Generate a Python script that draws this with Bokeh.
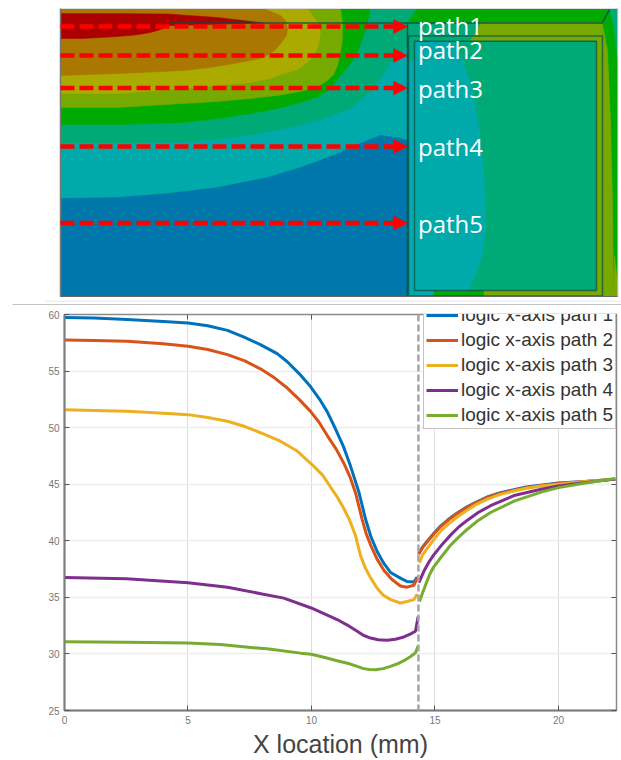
from math import pi
from bokeh.plotting import figure
from bokeh.embed import file_html
from bokeh.resources import INLINE
from bokeh.models import Range1d, LinearAxis, FixedTicker, Span, Legend, LegendItem, Label
from bokeh.core.properties import value

nan = float("nan")

# ---------- line chart data ----------
series_names = ["logic x-axis path 1", "logic x-axis path 2", "logic x-axis path 3",
                "logic x-axis path 4", "logic x-axis path 5"]
x_ticks = [0, 5, 10, 15, 20]
y_ticks = [25, 30, 35, 40, 45, 50, 55, 60]
interface_x = 14.33

path1_x = [0, 1.2, 2.54, 4, 5, 5.8, 6.6, 7.27, 7.93, 8.61, 9.02, 9.49, 9.96, 10.36, 10.63, 10.97, 11.3, 11.58, 11.92, 12.19, 12.4, 12.67, 12.93, 13.2, 13.6, 13.87, 14.15, 14.28,
           nan, 14.34, 14.5, 14.68, 14.95, 15.2, 15.55, 15.9, 16.3, 16.7, 17.15, 17.65, 18.7, 20, 21.1, 22.3]
path1_t = [59.74, 59.68, 59.56, 59.38, 59.24, 59.0, 58.6, 58.0, 57.34, 56.54, 55.82, 54.8, 53.63, 52.4, 51.44, 49.9, 48.3, 46.6, 44.3, 41.9, 40.4, 39.0, 38.0, 37.2, 36.7, 36.4, 36.35, 36.8,
           nan, 38.85, 39.45, 39.95, 40.65, 41.25, 41.9, 42.45, 43.0, 43.45, 43.9, 44.25, 44.75, 45.1, 45.25, 45.45]
path2_x = [0, 1.2, 2.54, 4, 5, 5.8, 6.6, 7.3, 7.93, 8.5, 9.02, 9.5, 9.96, 10.3, 10.64, 11, 11.3, 11.55, 11.78, 12.05, 12.22, 12.4, 12.65, 12.93, 13.25, 13.6, 13.87, 14.15, 14.28,
           nan, 14.34, 14.5, 14.68, 14.95, 15.2, 15.55, 15.9, 16.3, 16.7, 17.15, 17.65, 18.7, 20, 21.1, 22.3]
path2_t = [57.74, 57.7, 57.63, 57.42, 57.2, 56.9, 56.45, 55.9, 55.2, 54.4, 53.5, 52.5, 51.44, 50.5, 49.3, 48.1, 46.9, 45.7, 44.27, 41.9, 40.6, 39.6, 38.4, 37.4, 36.6, 36.0, 35.9, 36.07, 36.7,
           nan, 38.81, 39.4, 39.9, 40.6, 41.2, 41.85, 42.4, 42.95, 43.4, 43.85, 44.2, 44.7, 45.07, 45.24, 45.45]
path3_x = [0, 1.2, 2.54, 4, 5, 5.8, 6.6, 7.3, 7.93, 8.74, 9.42, 10.09, 10.45, 10.77, 11.05, 11.3, 11.55, 11.78, 11.88, 12.0, 12.19, 12.4, 12.66, 12.9, 13.2, 13.6, 13.87, 14.15, 14.28,
           nan, 14.37, 14.5, 14.68, 14.95, 15.2, 15.55, 15.9, 16.3, 16.7, 17.15, 17.65, 18.2, 18.7, 19.3, 20, 21.1, 22.3]
path3_t = [51.58, 51.52, 51.44, 51.28, 51.15, 50.9, 50.57, 50.1, 49.55, 48.8, 47.93, 46.6, 45.8, 44.75, 43.85, 42.9, 41.8, 40.48, 39.6, 38.6, 37.56, 36.7, 35.8, 35.2, 34.8, 34.5, 34.64, 34.8, 35.3,
           nan, 38.06, 38.75, 39.3, 40.1, 40.8, 41.5, 42.1, 42.7, 43.25, 43.7, 44.1, 44.4, 44.65, 44.85, 45.0, 45.24, 45.45]
path4_x = [0, 2.5, 5, 6.6, 8.0, 8.88, 9.99, 11.04, 11.45, 11.85, 12.1, 12.39, 12.7, 13.06, 13.4, 13.74, 14.0, 14.21, 14.32,
           nan, 14.35, 14.55, 14.75, 14.95, 15.3, 15.63, 15.95, 16.3, 16.75, 17.25, 18.2, 19.3, 20, 21.1, 22.3]
path4_t = [36.75, 36.65, 36.3, 35.9, 35.3, 34.93, 34.06, 33.04, 32.55, 32.0, 31.65, 31.4, 31.25, 31.2, 31.3, 31.5, 31.75, 32.0, 33.3,
           nan, 36.3, 37.3, 38.1, 38.75, 39.7, 40.5, 41.2, 41.8, 42.5, 43.1, 44.0, 44.55, 44.85, 45.15, 45.45]
path5_x = [0, 2.5, 5, 6.3, 7.66, 8.2, 9.56, 9.99, 10.5, 11.04, 11.5, 11.85, 12.1, 12.35, 12.6, 12.9, 13.2, 13.5, 13.74, 14.0, 14.21, 14.32,
           nan, 14.37, 14.5, 14.62, 14.78, 14.95, 15.3, 15.63, 15.95, 16.3, 16.75, 17.25, 18.2, 19.3, 20, 21.1, 22.3]
path5_t = [31.08, 31.03, 30.96, 30.84, 30.55, 30.45, 30.07, 29.97, 29.7, 29.4, 29.15, 28.9, 28.7, 28.63, 28.6, 28.7, 28.9, 29.15, 29.4, 29.75, 30.1, 30.73,
           nan, 34.63, 35.4, 36.1, 37.0, 37.7, 38.7, 39.6, 40.3, 41.0, 41.8, 42.5, 43.5, 44.3, 44.7, 45.1, 45.5]

# ---------- thermal map regions (diagram coordinates) ----------
base_x = [60, 617, 617, 60]
base_y = [8, 8, 296, 296]
teal_x = [60, 117, 183, 217, 250, 277, 300, 318, 333, 350, 357, 366, 373, 382, 390, 407, 407, 60]
teal_y = [143, 143, 142, 139, 135, 130, 125, 120, 115, 108, 103, 95, 87, 76, 63, 46, 296, 296]
blue_x = [60, 117, 167, 217, 267, 300, 333, 350, 367, 380, 397, 407, 407, 60]
blue_y = [198, 197, 193, 187, 177, 167, 155, 147, 140, 135, 137, 140, 296, 296]
green_x = [60, 117, 183, 217, 250, 277, 300, 318, 330, 340, 350, 356, 360, 365, 368, 370, 60]
green_y = [124, 124, 122, 118, 113, 108, 102, 96, 88, 75, 63, 53, 43, 30, 17, 8, 8]
lime_x = [60, 117, 183, 217, 250, 277, 300, 316, 327, 333, 337, 340, 342, 342, 340, 60]
lime_y = [107, 107, 103, 101, 98, 95, 91, 87, 80, 74, 65, 52, 38, 22, 8, 8]
yellow_x = [60, 117, 183, 217, 250, 270, 283, 297, 307, 314, 318, 320, 318, 313, 307, 60]
yellow_y = [93, 93, 88, 85, 82, 78, 73, 69, 62, 54, 44, 33, 24, 16, 8, 8]
orange_x = [60, 117, 183, 210, 233, 250, 263, 274, 281, 286, 287, 285, 280, 263, 60]
orange_y = [75, 73, 70, 67, 63, 60, 57, 50, 42, 35, 28, 20, 15, 8, 8]
red_x = [60, 117, 167, 217, 263, 170, 160, 150, 135, 117, 83, 60]
red_y = [13, 13, 13.5, 17, 22.5, 25, 29, 32, 34.5, 36, 38, 38]
# right block
top_green_x = [417, 608, 602, 407]
top_green_y = [8, 8, 22, 22]
top_lime_x = [481, 602, 602, 470]
top_lime_y = [22, 22, 40, 40]
right_green_x = [602, 608, 612, 617, 617, 602]
right_green_y = [22, 8, 22, 60, 296, 296]
right_lime_x = [602, 607, 610, 612, 613, 602]
right_lime_y = [24, 50, 120, 200, 296, 296]
corner_lime_x = [614, 617, 617, 613]
corner_lime_y = [255, 280, 296, 296]
band_lime_x = [596, 602, 602, 483, 483, 596]
band_lime_y = [40, 40, 296, 296, 290, 290]
band_green_x = [433, 483, 483, 433]
band_green_y = [290, 290, 296, 296]
band_teal_x = [407, 414, 414, 433, 433, 407]
band_teal_y = [60, 60, 290, 290, 296, 296]
inner_teal_x = [414, 453, 462, 470, 476, 480, 483, 485, 485, 483, 476, 468, 414]
inner_teal_y = [41, 41, 60, 83, 110, 140, 170, 200, 225, 250, 272, 290, 290]

C_RED, C_ORANGE, C_YELLOW, C_LIME = "#AA0000", "#AA7700", "#AAAA00", "#77AA00"
C_GREEN, C_SEA, C_TEAL, C_BLUE = "#00AA00", "#00AA77", "#00AAAA", "#0077AA"

path_rows = [26, 55, 87.5, 146, 222.5]
path_label_rows = [25, 49, 88, 146, 223]
path_labels = ["path1", "path2", "path3", "path4", "path5"]

# ---------- top panel ----------
top = figure(width=621, height=306, output_backend="svg", toolbar_location=None,
             x_range=Range1d(0, 621), y_range=Range1d(306, 0),
             min_border=0, min_border_left=0, min_border_right=0, min_border_top=0, min_border_bottom=0,
             x_axis_type=None, y_axis_type=None)
top.grid.visible = False
top.outline_line_color = None

regions = [
    (base_x, base_y, C_SEA), (teal_x, teal_y, C_TEAL), (blue_x, blue_y, C_BLUE),
    (green_x, green_y, C_GREEN), (lime_x, lime_y, C_LIME), (yellow_x, yellow_y, C_YELLOW),
    (orange_x, orange_y, C_ORANGE), (red_x, red_y, C_RED),
    (top_green_x, top_green_y, C_GREEN), (top_lime_x, top_lime_y, C_LIME),
    (right_green_x, right_green_y, C_GREEN), (right_lime_x, right_lime_y, C_LIME),
    (corner_lime_x, corner_lime_y, C_LIME), (band_lime_x, band_lime_y, C_LIME),
    (band_green_x, band_green_y, C_GREEN), (band_teal_x, band_teal_y, C_TEAL),
    (inner_teal_x, inner_teal_y, C_TEAL),
]
for xs, ys, c in regions:
    top.patch(xs, ys, fill_color=c, line_color=c, line_width=0.5)

# structure lines of the package
dark = "#0E4A45"
top.multi_line(xs=[[170, 602], [407, 407], [602, 609]],
               ys=[[22.5, 22.5], [22.5, 296], [22, 9]],
               line_color=dark, line_width=1.5, line_alpha=0.85)
top.multi_line(xs=[[408, 602, 602, 408, 408], [414, 596, 596, 414, 414]],
               ys=[[35.5, 35.5, 295.5, 295.5, 35.5], [40.7, 40.7, 290, 290, 40.7]],
               line_color=dark, line_width=1.5, line_alpha=0.7)
# image edges
top.line([60, 60], [8, 296], line_color="#777777", line_width=1.5)
top.line([60, 617], [296, 296], line_color="#666666", line_width=1.2)
top.line([60, 617], [8, 8], line_color="#DDDDDD", line_width=1)
top.line([617.5, 617.5], [8, 296], line_color="#DDDDDD", line_width=1)
top.line([45, 621], [300.7, 300.7], line_color="#E8E8E8", line_width=1)
top.line([12, 621], [304, 304], line_color="#C4C4C4", line_width=1.2)

# red dashed arrows
for r in path_rows:
    top.line([60, 394], [r, r], line_color="#FF0000", line_width=4.5, line_dash="14 5")
    top.patch([393, 407, 393], [r - 7, r, r + 7], fill_color="#FF0000", line_color="#FF0000", line_width=0.5)

top.text(x=[417.5] * 5, y=path_label_rows, text=path_labels, text_color="white",
         text_font=value("Open Sans"), text_font_size="24px",
         text_baseline="middle", text_align="left")

# ---------- bottom chart ----------
p = figure(width=621, height=454, output_backend="svg", toolbar_location=None,
           x_range=Range1d(0, 22.35), y_range=Range1d(25, 60),
           min_border_left=64, min_border_right=5, min_border_top=8, min_border_bottom=47,
           x_axis_label="X location (mm)")
p.outline_line_color = "#8A8A8A"
p.outline_line_width = 1.5

for ax, ticks in ((p.xaxis[0], x_ticks), (p.yaxis[0], y_ticks)):
    ax.ticker = FixedTicker(ticks=ticks)
    ax.axis_line_color = "#7F7F7F"
    ax.axis_line_width = 2
    ax.major_tick_line_color = "#555555"
    ax.major_tick_in = 5
    ax.major_tick_out = 0
    ax.minor_tick_line_color = None
    ax.major_label_text_color = "#777777"
    ax.major_label_text_font = "Liberation Sans"
    ax.major_label_text_font_size = "10px"
    ax.major_label_standoff = 5
    ax.axis_label_text_font = "Liberation Sans"
    ax.axis_label_text_font_style = "normal"
    ax.axis_label_text_color = "#444444"
p.xaxis[0].axis_label_text_font_size = "25px"
p.xaxis[0].axis_label_standoff = 3

p.add_layout(Label(x=-1.46, y=40.8, x_units="data", y_units="data", text="Temperature (°C)",
                   angle=pi / 2, text_align="center", text_baseline="middle",
                   text_font="Liberation Sans", text_font_size="19px", text_color="#444444"))

for side, ticks in (("above", x_ticks), ("right", y_ticks)):
    extra = LinearAxis(ticker=FixedTicker(ticks=ticks), axis_line_color=None,
                       major_tick_line_color="#555555", major_tick_in=5, major_tick_out=0,
                       minor_tick_line_color=None, major_label_text_font_size="0px",
                       major_label_standoff=0)
    p.add_layout(extra, side)

p.xgrid.ticker = FixedTicker(ticks=x_ticks)
p.ygrid.ticker = FixedTicker(ticks=y_ticks)
p.xgrid.grid_line_color = "#DDDDDD"
p.xgrid.grid_line_width = 1
p.ygrid.grid_line_color = "#EDEDED"
p.ygrid.grid_line_width = 1.5

p.add_layout(Span(location=interface_x, dimension="height", line_color="#A6A6A6",
                  line_width=2.5, line_dash="7 3"))

series = [(path1_x, path1_t, "#0072BD"), (path2_x, path2_t, "#D95319"), (path3_x, path3_t, "#EDB120"),
          (path4_x, path4_t, "#7E2F8E"), (path5_x, path5_t, "#77AC30")]
items = []
for name, (xs, ts, c) in zip(series_names, series):
    r = p.line(xs, ts, line_color=c, line_width=3)
    items.append(LegendItem(label=name, renderers=[r]))

legend = Legend(items=items, location=(359, 281), orientation="vertical",
                label_text_font="Liberation Sans", label_text_font_size="19px",
                label_text_color="#333333", label_height=20, glyph_height=20,
                glyph_width=32, label_standoff=3, spacing=3, padding=2, margin=0,
                border_line_color="#8A8A8A", border_line_width=1.5,
                background_fill_color="white", background_fill_alpha=1)
p.add_layout(legend, "center")

open("out.html", "w").write(file_html((top, p), INLINE))
